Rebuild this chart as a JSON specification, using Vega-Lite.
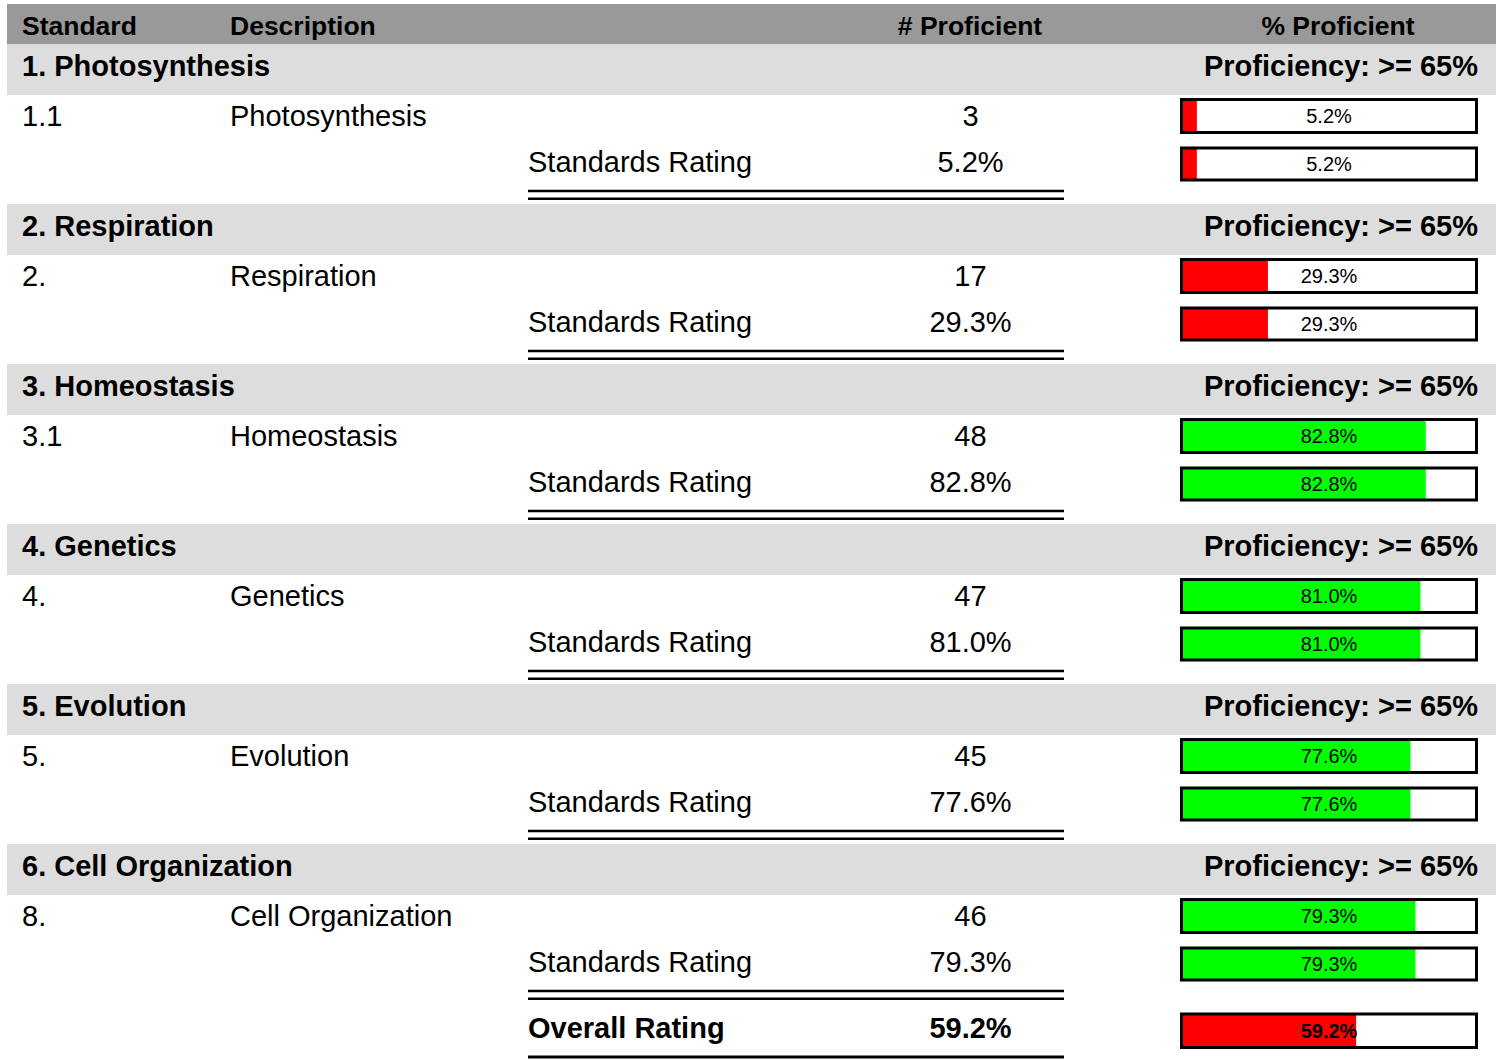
{
  "$schema": "https://vega.github.io/schema/vega-lite/v6.json",
  "width": 1503,
  "height": 1061,
  "autosize": {"type": "none"},
  "padding": 0,
  "background": "white",
  "config": {
    "view": {"stroke": null},
    "text": {"font": "Liberation Sans", "baseline": "middle", "color": "#000000"}
  },
  "datasets": {
    "standards": [
      {"section": 1, "title": "1. Photosynthesis", "code": "1.1", "description": "Photosynthesis", "proficient": 3, "rate": 0.052},
      {"section": 2, "title": "2. Respiration", "code": "2.", "description": "Respiration", "proficient": 17, "rate": 0.293},
      {"section": 3, "title": "3. Homeostasis", "code": "3.1", "description": "Homeostasis", "proficient": 48, "rate": 0.828},
      {"section": 4, "title": "4. Genetics", "code": "4.", "description": "Genetics", "proficient": 47, "rate": 0.81},
      {"section": 5, "title": "5. Evolution", "code": "5.", "description": "Evolution", "proficient": 45, "rate": 0.776},
      {"section": 6, "title": "6. Cell Organization", "code": "8.", "description": "Cell Organization", "proficient": 46, "rate": 0.793}
    ],
    "overall": [
      {"section": 7, "label": "Overall Rating", "rate": 0.592}
    ],
    "columns": [
      {"section": 1}
    ]
  },
  "layer": [
    {
      "data": {"name": "columns"},
      "mark": {"type": "rect", "color": "#999999", "yOffset": -40},
      "encoding": {
        "x": {"datum": -3.9814, "type": "quantitative", "scale": {"domain": [0, 1], "range": [1181.5, 1476.5], "zero": false, "nice": false}, "axis": null},
        "x2": {"datum": 1.0661},
        "y": {"field": "section", "type": "quantitative", "scale": {"domain": [1, 7], "range": [44, 1004], "zero": false, "nice": false}, "axis": null},
        "y2": {"field": "section"}
      }
    },
    {
      "data": {"name": "columns"},
      "mark": {"type": "text", "text": "Standard", "align": "left", "fontWeight": "bold", "fontSize": 26.5, "yOffset": -17},
      "encoding": {"x": {"datum": -3.9305, "type": "quantitative", "axis": null}, "y": {"field": "section", "type": "quantitative", "axis": null}}
    },
    {
      "data": {"name": "columns"},
      "mark": {"type": "text", "text": "Description", "align": "left", "fontWeight": "bold", "fontSize": 26.5, "yOffset": -17},
      "encoding": {"x": {"datum": -3.2254, "type": "quantitative", "axis": null}, "y": {"field": "section", "type": "quantitative", "axis": null}}
    },
    {
      "data": {"name": "columns"},
      "mark": {"type": "text", "text": "# Proficient", "align": "center", "fontWeight": "bold", "fontSize": 26.5, "yOffset": -17},
      "encoding": {"x": {"datum": -0.7170, "type": "quantitative", "axis": null}, "y": {"field": "section", "type": "quantitative", "axis": null}}
    },
    {
      "data": {"name": "columns"},
      "mark": {"type": "text", "text": "% Proficient", "align": "center", "fontWeight": "bold", "fontSize": 26.5, "yOffset": -17},
      "encoding": {"x": {"datum": 0.5305, "type": "quantitative", "axis": null}, "y": {"field": "section", "type": "quantitative", "axis": null}}
    },
    {
      "data": {"name": "standards"},
      "mark": {"type": "rect", "color": "#dddddd", "y2Offset": 51},
      "encoding": {
        "x": {"datum": -3.9814, "type": "quantitative", "axis": null},
        "x2": {"datum": 1.0661},
        "y": {"field": "section", "type": "quantitative", "axis": null},
        "y2": {"field": "section"}
      }
    },
    {
      "data": {"name": "standards"},
      "mark": {"type": "text", "align": "left", "fontWeight": "bold", "fontSize": 29, "yOffset": 23},
      "encoding": {
        "x": {"datum": -3.9305, "type": "quantitative", "axis": null},
        "y": {"field": "section", "type": "quantitative", "axis": null},
        "text": {"field": "title", "type": "nominal"}
      }
    },
    {
      "data": {"name": "standards"},
      "mark": {"type": "text", "text": "Proficiency: >= 65%", "align": "right", "fontWeight": "bold", "fontSize": 29, "yOffset": 23},
      "encoding": {
        "x": {"datum": 1.0051, "type": "quantitative", "axis": null},
        "y": {"field": "section", "type": "quantitative", "axis": null}
      }
    },
    {
      "data": {"name": "standards"},
      "mark": {"type": "text", "align": "left", "fontSize": 29, "yOffset": 73},
      "encoding": {
        "x": {"datum": -3.9305, "type": "quantitative", "axis": null},
        "y": {"field": "section", "type": "quantitative", "axis": null},
        "text": {"field": "code", "type": "nominal"}
      }
    },
    {
      "data": {"name": "standards"},
      "mark": {"type": "text", "align": "left", "fontSize": 29, "yOffset": 73},
      "encoding": {
        "x": {"datum": -3.2254, "type": "quantitative", "axis": null},
        "y": {"field": "section", "type": "quantitative", "axis": null},
        "text": {"field": "description", "type": "nominal"}
      }
    },
    {
      "data": {"name": "standards"},
      "mark": {"type": "text", "align": "center", "fontSize": 29, "yOffset": 73},
      "encoding": {
        "x": {"datum": -0.7153, "type": "quantitative", "axis": null},
        "y": {"field": "section", "type": "quantitative", "axis": null},
        "text": {"field": "proficient", "type": "quantitative", "format": "d"}
      }
    },
    {
      "data": {"name": "standards"},
      "mark": {"type": "text", "text": "Standards Rating", "align": "left", "fontSize": 29, "yOffset": 119},
      "encoding": {
        "x": {"datum": -2.2153, "type": "quantitative", "axis": null},
        "y": {"field": "section", "type": "quantitative", "axis": null}
      }
    },
    {
      "data": {"name": "standards"},
      "mark": {"type": "text", "align": "center", "fontSize": 29, "yOffset": 119},
      "encoding": {
        "x": {"datum": -0.7153, "type": "quantitative", "axis": null},
        "y": {"field": "section", "type": "quantitative", "axis": null},
        "text": {"field": "rate", "type": "quantitative", "format": ".1%"}
      }
    },
    {
      "data": {"name": "standards"},
      "mark": {"type": "rule", "color": "#000000", "strokeWidth": 2.5, "yOffset": 147},
      "encoding": {
        "x": {"datum": -2.2153, "type": "quantitative", "axis": null},
        "x2": {"datum": -0.3983},
        "y": {"field": "section", "type": "quantitative", "axis": null}
      }
    },
    {
      "data": {"name": "standards"},
      "mark": {"type": "rule", "color": "#000000", "strokeWidth": 2.5, "yOffset": 154.7},
      "encoding": {
        "x": {"datum": -2.2153, "type": "quantitative", "axis": null},
        "x2": {"datum": -0.3983},
        "y": {"field": "section", "type": "quantitative", "axis": null}
      }
    },
    {
      "data": {"name": "standards"},
      "mark": {"type": "rect", "yOffset": 55.5, "y2Offset": 88.5},
      "encoding": {
        "x": {"field": "rate", "type": "quantitative", "axis": null},
        "x2": {"datum": 0},
        "y": {"field": "section", "type": "quantitative", "axis": null},
        "y2": {"field": "section"},
        "color": {"field": "rate", "type": "quantitative", "scale": {"type": "threshold", "domain": [0.65], "range": ["#ff0000", "#00ff00"]}, "legend": null}
      }
    },
    {
      "data": {"name": "standards"},
      "mark": {"type": "rect", "yOffset": 104, "y2Offset": 136},
      "encoding": {
        "x": {"field": "rate", "type": "quantitative", "axis": null},
        "x2": {"datum": 0},
        "y": {"field": "section", "type": "quantitative", "axis": null},
        "y2": {"field": "section"},
        "color": {"field": "rate", "type": "quantitative", "scale": {"type": "threshold", "domain": [0.65], "range": ["#ff0000", "#00ff00"]}, "legend": null}
      }
    },
    {
      "data": {"name": "standards"},
      "mark": {"type": "rect", "fill": "transparent", "stroke": "#000000", "strokeWidth": 3, "yOffset": 55.5, "y2Offset": 88.5},
      "encoding": {
        "x": {"datum": 0, "type": "quantitative", "axis": null},
        "x2": {"datum": 1},
        "y": {"field": "section", "type": "quantitative", "axis": null},
        "y2": {"field": "section"}
      }
    },
    {
      "data": {"name": "standards"},
      "mark": {"type": "rect", "fill": "transparent", "stroke": "#000000", "strokeWidth": 3, "yOffset": 104, "y2Offset": 136},
      "encoding": {
        "x": {"datum": 0, "type": "quantitative", "axis": null},
        "x2": {"datum": 1},
        "y": {"field": "section", "type": "quantitative", "axis": null},
        "y2": {"field": "section"}
      }
    },
    {
      "data": {"name": "standards"},
      "mark": {"type": "text", "align": "center", "fontSize": 20, "yOffset": 73},
      "encoding": {
        "x": {"datum": 0.5, "type": "quantitative", "axis": null},
        "y": {"field": "section", "type": "quantitative", "axis": null},
        "text": {"field": "rate", "type": "quantitative", "format": ".1%"}
      }
    },
    {
      "data": {"name": "standards"},
      "mark": {"type": "text", "align": "center", "fontSize": 20, "yOffset": 121},
      "encoding": {
        "x": {"datum": 0.5, "type": "quantitative", "axis": null},
        "y": {"field": "section", "type": "quantitative", "axis": null},
        "text": {"field": "rate", "type": "quantitative", "format": ".1%"}
      }
    },
    {
      "data": {"name": "overall"},
      "mark": {"type": "text", "align": "left", "fontWeight": "bold", "fontSize": 29, "yOffset": 25},
      "encoding": {
        "x": {"datum": -2.2153, "type": "quantitative", "axis": null},
        "y": {"field": "section", "type": "quantitative", "axis": null},
        "text": {"field": "label", "type": "nominal"}
      }
    },
    {
      "data": {"name": "overall"},
      "mark": {"type": "text", "align": "center", "fontWeight": "bold", "fontSize": 29, "yOffset": 25},
      "encoding": {
        "x": {"datum": -0.7153, "type": "quantitative", "axis": null},
        "y": {"field": "section", "type": "quantitative", "axis": null},
        "text": {"field": "rate", "type": "quantitative", "format": ".1%"}
      }
    },
    {
      "data": {"name": "overall"},
      "mark": {"type": "rule", "color": "#000000", "strokeWidth": 3, "yOffset": 53},
      "encoding": {
        "x": {"datum": -2.2153, "type": "quantitative", "axis": null},
        "x2": {"datum": -0.3983},
        "y": {"field": "section", "type": "quantitative", "axis": null}
      }
    },
    {
      "data": {"name": "overall"},
      "mark": {"type": "rect", "yOffset": 10, "y2Offset": 43.5},
      "encoding": {
        "x": {"field": "rate", "type": "quantitative", "axis": null},
        "x2": {"datum": 0},
        "y": {"field": "section", "type": "quantitative", "axis": null},
        "y2": {"field": "section"},
        "color": {"field": "rate", "type": "quantitative", "scale": {"type": "threshold", "domain": [0.65], "range": ["#ff0000", "#00ff00"]}, "legend": null}
      }
    },
    {
      "data": {"name": "overall"},
      "mark": {"type": "rect", "fill": "transparent", "stroke": "#000000", "strokeWidth": 3, "yOffset": 10, "y2Offset": 43.5},
      "encoding": {
        "x": {"datum": 0, "type": "quantitative", "axis": null},
        "x2": {"datum": 1},
        "y": {"field": "section", "type": "quantitative", "axis": null},
        "y2": {"field": "section"}
      }
    },
    {
      "data": {"name": "overall"},
      "mark": {"type": "text", "align": "center", "fontWeight": "bold", "fontSize": 20, "yOffset": 28},
      "encoding": {
        "x": {"datum": 0.5, "type": "quantitative", "axis": null},
        "y": {"field": "section", "type": "quantitative", "axis": null},
        "text": {"field": "rate", "type": "quantitative", "format": ".1%"}
      }
    }
  ]
}
